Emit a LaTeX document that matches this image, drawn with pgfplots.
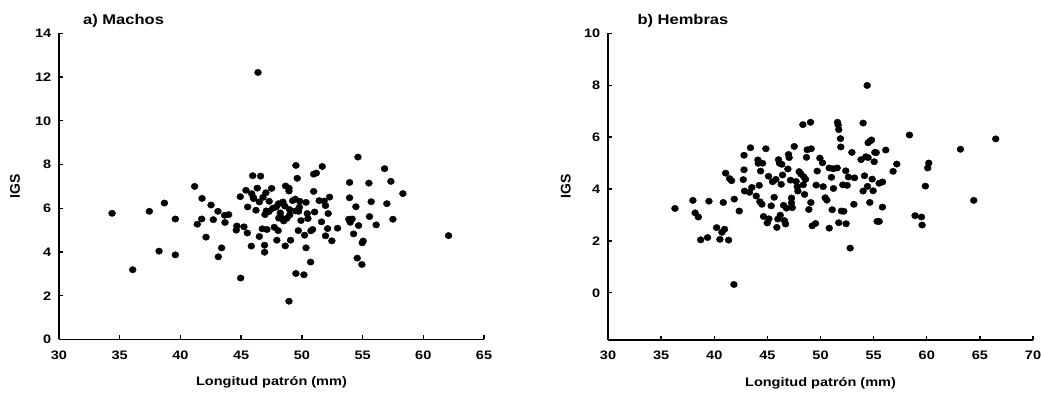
\documentclass[border=0pt]{standalone}
\usepackage{fontspec}
\setmainfont{Liberation Sans}[FakeStretch=1.18]
\newfontfamily\rotfont{Liberation Sans}
\usepackage{pgfplots}
\pgfplotsset{compat=1.18}
\pgfplotsset{panel/.style={
  scale only axis, width=425pt, clip=false,
  axis x line*=bottom, axis y line*=left,
  axis line style={line width=1.6pt},
  tick align=inside, major tick length=4pt,
  every tick/.style={line width=1.3pt, black},
  /pgf/number format/assume math mode=true,
  tick label style={font=\bfseries\fontsize{12.3}{12.3}\selectfont},
  xticklabel style={anchor=north, inner sep=0pt, yshift=-11pt},
  yticklabel style={anchor=east, inner sep=0pt, xshift=-7.5pt},
  label style={font=\bfseries\fontsize{12.3}{12.3}\selectfont},
  xlabel={Longitud patrón (mm)},
  xlabel style={at={(axis description cs:0.5,-0.150)}, anchor=base},
  ylabel={\rotfont\bfseries\fontsize{14}{14}\selectfont IGS},
  xmin=30,
}}
\pgfplotsset{dots/.style={only marks, mark=*, mark size=3.2pt, black, mark options={xscale=1.08, fill=black, draw=black}}}
\begin{document}
\begin{tikzpicture}
\useasboundingbox (0pt,0pt) rectangle (1041pt,393pt);
\begin{axis}[panel, at={(59pt,53.5pt)}, anchor=south west, height=306.2pt,
  xmax=65, ymin=0, ymax=14, xtick={30,35,...,65}, ytick={0,2,...,14},
  ylabel style={at={(axis description cs:-0.1035,0.5)}, anchor=center}]
\addplot[dots] coordinates {
(46.39,12.21) (34.37,5.77) (36.07,3.19) (37.44,5.86) (38.24,4.04) (38.68,6.24)
(39.58,5.51) (39.58,3.87) (41.17,7.00) (41.78,6.45) (41.39,5.27) (41.75,5.51)
(42.11,4.68) (42.52,6.15) (42.71,5.48) (43.09,5.86) (43.12,3.78) (43.39,4.19)
(43.64,5.68) (43.97,5.71) (43.67,5.35) (44.60,5.00) (44.65,5.19) (44.96,2.81)
(44.93,6.53) (45.23,5.15) (45.40,6.82) (45.51,4.87) (45.54,6.06) (45.84,4.27)
(45.95,7.49) (45.87,6.67) (46.03,6.44) (46.22,5.91) (46.33,6.92) (46.50,6.29)
(46.50,4.71) (46.60,7.47) (46.74,5.06) (46.93,4.31) (46.93,3.99) (47.04,6.71)
(47.07,5.88) (46.96,5.71) (47.12,5.03) (47.31,6.32) (47.51,6.91) (47.73,5.13)
(47.89,6.06) (47.94,4.54) (48.05,4.98) (48.08,6.21) (48.22,5.79) (48.27,5.60)
(48.44,6.29) (48.50,5.42) (48.63,4.28) (48.66,7.02) (48.77,5.54) (48.94,6.92)
(48.94,6.79) (48.94,1.75) (48.99,5.94) (49.07,4.54) (49.24,6.35) (49.46,6.42)
(49.49,5.88) (49.51,7.96) (49.51,3.02) (49.62,7.37) (49.71,4.98) (49.73,5.86)
(49.82,6.32) (49.93,5.44) (50.17,2.96) (50.23,4.77) (50.34,6.27) (50.34,4.19)
(50.45,5.76) (50.50,5.53) (50.72,3.54) (50.75,4.97) (50.88,5.03) (50.97,7.56)
(50.97,6.77) (51.05,5.83) (51.19,7.61) (51.43,6.35) (51.62,5.38) (51.68,7.91)
(51.84,6.33) (51.95,6.12) (51.95,4.74) (52.12,5.07) (52.17,5.76) (52.28,6.51)
(52.47,4.51) (52.94,5.09) (53.93,7.18) (53.93,6.48) (53.87,5.50) (53.98,5.36)
(54.14,5.51) (54.26,4.83) (54.45,6.07) (54.56,3.72) (54.62,8.34) (54.67,5.21)
(54.94,3.43) (54.97,4.42) (55.05,4.50) (55.52,7.15) (55.57,5.62) (55.71,6.30)
(56.12,5.24) (56.81,7.81) (57.00,6.21) (57.33,7.23) (57.50,5.50) (58.32,6.67)
(62.08,4.75) (47.60,6.00) (48.60,6.10) (49.00,5.70) (48.10,5.55) (49.80,6.05)
(47.30,5.85) (46.00,6.50) (46.80,6.50)
};
\end{axis}
\begin{axis}[panel, at={(608pt,53pt)}, anchor=south west, height=306.7pt,
  xmax=70, ymin=-1.82, ymax=10, xtick={30,35,...,70}, ytick={0,2,...,10},
  ylabel style={at={(axis description cs:-0.0995,0.5)}, anchor=center}]
\addplot[dots] coordinates {
(36.30,3.25) (37.99,3.56) (38.20,3.08) (38.50,2.92) (38.72,2.04) (39.37,2.13)
(39.50,3.53) (40.22,2.51) (40.53,2.06) (40.72,2.33) (40.85,3.48) (40.97,2.45)
(41.07,4.61) (41.35,2.03) (41.44,4.40) (41.63,4.32) (41.85,0.32) (41.88,3.61)
(42.35,3.15) (42.73,4.36) (42.80,5.30) (42.80,4.74) (42.85,3.92) (43.41,5.59)
(43.32,3.87) (43.54,4.06) (43.95,3.73) (44.11,5.12) (44.14,4.99) (44.23,4.14)
(44.36,4.69) (44.29,3.51) (44.48,3.41) (44.55,4.99) (44.64,2.94) (44.86,5.55)
(44.99,2.69) (45.11,4.49) (45.14,2.85) (45.36,3.35) (45.49,4.28) (45.64,3.68)
(45.80,4.37) (45.89,2.52) (45.99,2.84) (46.05,5.13) (46.14,4.99) (46.21,2.99)
(46.30,4.18) (46.36,4.95) (46.43,4.54) (46.52,3.37) (46.61,2.78) (46.71,2.65)
(46.80,3.26) (46.93,4.77) (46.99,5.33) (47.05,5.21) (47.18,4.34) (47.27,3.65)
(47.27,3.46) (47.34,3.28) (47.53,5.64) (47.71,4.29) (47.81,4.09) (47.87,3.92)
(47.99,4.67) (48.15,4.58) (48.34,6.48) (48.37,4.16) (48.43,4.47) (48.50,3.79)
(48.59,4.37) (48.68,5.22) (48.75,5.51) (48.90,3.21) (49.06,6.57) (49.09,3.48)
(49.12,5.55) (49.22,2.58) (49.53,2.67) (49.59,4.15) (49.69,4.69) (49.94,5.19)
(50.19,5.01) (50.25,4.09) (50.44,3.66) (50.60,3.57) (50.82,2.49) (50.82,4.81)
(51.03,4.45) (51.10,3.20) (51.19,4.78) (51.22,4.02) (51.57,4.81) (51.60,6.57)
(51.66,6.47) (51.72,6.29) (51.72,2.70) (51.88,5.94) (51.91,5.62) (51.97,3.15)
(52.10,4.16) (52.19,3.14) (52.38,4.70) (52.41,2.66) (52.51,4.14) (52.63,4.46)
(52.79,1.72) (52.95,5.41) (53.14,3.41) (53.20,4.43) (53.82,5.13) (54.01,6.54)
(54.01,3.92) (54.14,4.51) (54.26,5.24) (54.39,7.99) (54.42,4.10) (54.48,5.21)
(54.48,5.78) (54.64,3.48) (54.64,5.84) (54.80,5.89) (54.86,4.38) (54.95,3.93)
(55.05,5.05) (55.11,5.41) (55.24,5.40) (55.33,2.75) (55.52,2.75) (55.52,4.22)
(55.83,4.27) (55.83,3.30) (56.14,5.50) (56.83,4.68) (57.18,4.96) (58.37,6.08)
(58.90,2.97) (59.50,2.92) (59.56,2.61) (59.87,4.11) (60.09,4.81) (60.19,5.00)
(63.17,5.53) (64.42,3.56) (66.49,5.93)
};
\end{axis}
\node[anchor=base west, inner sep=0pt, font=\bfseries\fontsize{14}{14}\selectfont] at (83pt,368.5pt) {a) Machos};
\node[anchor=base west, inner sep=0pt, font=\bfseries\fontsize{14}{14}\selectfont] at (637.3pt,368.5pt) {b) Hembras};
\end{tikzpicture}
\end{document}
